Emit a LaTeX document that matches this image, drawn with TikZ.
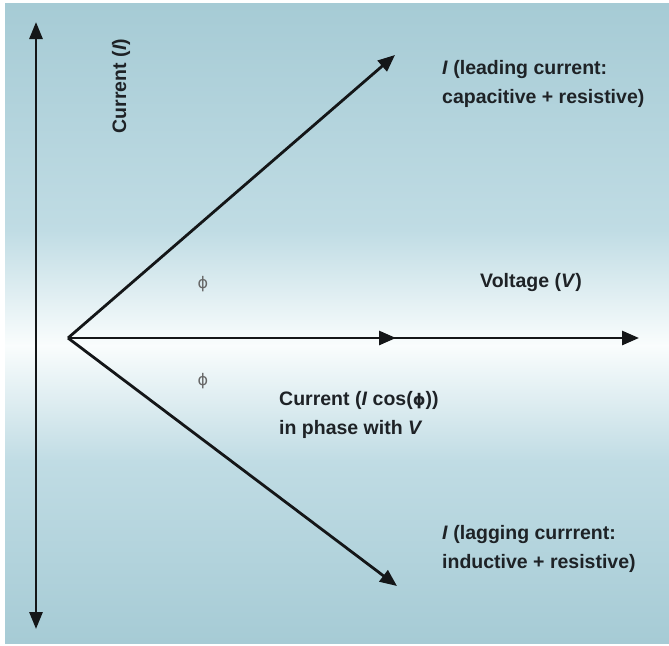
\documentclass[tikz,border=0pt]{standalone}
\usepackage{fontspec}
\setmainfont{Liberation Sans}
\newfontfamily\phifont{DejaVu Sans}
\usetikzlibrary{arrows.meta}
\definecolor{bgA}{RGB}{166,203,213}
\definecolor{bgB}{RGB}{192,220,228}
\definecolor{bgW}{RGB}{250,253,253}
\definecolor{ink}{RGB}{20,22,24}
\definecolor{txt}{RGB}{30,34,38}
\newcommand{\ph}{{\phifont\fontsize{16}{16}\selectfont ϕ}}
\tikzset{
  vec/.style={line width=2.8pt, draw=ink, -{Triangle[length=17pt,width=14pt]}},
  axis2/.style={line width=2.8pt, draw=ink, {Triangle[length=17pt,width=13pt]}-{Triangle[length=17pt,width=13pt]}},
  lbl/.style={text=txt, font=\fontsize{19.5}{29}\selectfont\bfseries, align=left, inner sep=0pt},
  philbl/.style={text=black!60, inner sep=0pt}
}
\begin{document}
\begin{tikzpicture}[x=1pt,y=-1pt]
\useasboundingbox (0,0) rectangle (669,645);
\fill[white] (0,0) rectangle (669,645);
\shade[top color=bgA, bottom color=bgB] (5,3) rectangle (669,231);
\shade[top color=bgB, bottom color=bgW] (5,230) rectangle (669,346);
\shade[top color=bgW, bottom color=bgB] (5,345) rectangle (669,461);
\shade[top color=bgB, bottom color=bgA] (5,460) rectangle (669,643);

\coordinate (O) at (68,338);
\coordinate (Atop) at (36,22);
\coordinate (Abot) at (36,629);
\coordinate (Lead) at (395,55);
\coordinate (Lag) at (397,586);
\coordinate (Icos) at (396,338);
\coordinate (Vend) at (639,338);

\draw[axis2] (Atop) -- (Abot);
\draw[vec] (O) -- (Vend);
\draw[vec] (O) -- (Icos);
\draw[vec] (O) -- (Lead);
\draw[vec] (O) -- (Lag);

\node[lbl, rotate=90] (curI) at (121,86) {Current (\textit{I})};
\node[lbl, anchor=west] (lead) at (442,84) {\textit{I} (leading current:\\capacitive + resistive)};
\node[lbl, anchor=west] (volt) at (480,282) {Voltage (\textit{V})};
\node[lbl, anchor=west] (icos) at (279,415) {Current (\textit{I} cos(\ph))\\in phase with \textit{V}};
\node[lbl, anchor=west] (lag) at (442,549) {\textit{I} (lagging currrent:\\inductive + resistive)};
\node[philbl] (phiU) at (203,284) {\ph};
\node[philbl] (phiL) at (203,381) {\ph};
\end{tikzpicture}
\end{document}
